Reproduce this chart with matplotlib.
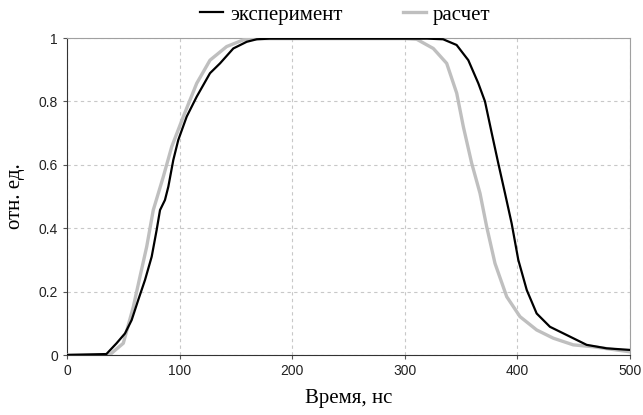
import numpy as np
import matplotlib.pyplot as plt

# experiment (black)
t_exp = [0, 35, 44, 51.5, 57.4, 63.3, 69.3, 75.2, 79.6, 82.6, 87, 90, 94.4, 98.8, 106.3,
         115.2, 127, 135.9, 147.7, 159.6, 168.5, 180, 250, 320, 334, 346, 356.4, 365.3,
         371.2, 377.2, 383, 389, 394.9, 400.8, 408.3, 417.1, 428.9, 443.8, 461.5, 479.3, 500]
v_exp = [0, 0.003, 0.037, 0.068, 0.11, 0.174, 0.237, 0.31, 0.394, 0.457, 0.489, 0.531,
         0.615, 0.678, 0.752, 0.815, 0.889, 0.92, 0.967, 0.988, 0.996, 0.998, 0.998, 0.998,
         0.996, 0.978, 0.93, 0.857, 0.80, 0.70, 0.605, 0.51, 0.415, 0.30, 0.205, 0.131,
         0.089, 0.063, 0.032, 0.021, 0.016]

# calculation (grey)
t_calc = [0, 38, 41, 50, 58.9, 64.8, 70.8, 76.6, 85.5, 93, 103.3, 115.2, 127, 141.8,
          156.6, 170, 250, 300, 310.6, 325.3, 337.2, 346.1, 352, 359.4, 366.8, 372.7,
          380.1, 390.5, 402.3, 417.1, 431.9, 449.6, 467.4, 500]
v_calc = [0, 0.0, 0.01, 0.037, 0.152, 0.247, 0.342, 0.457, 0.562, 0.657, 0.752, 0.857,
          0.93, 0.973, 0.994, 0.998, 0.998, 0.998, 0.996, 0.967, 0.92, 0.826, 0.72, 0.605,
          0.51, 0.405, 0.289, 0.184, 0.121, 0.079, 0.053, 0.032, 0.026, 0.01]

x_ticks = [0, 100, 200, 300, 400, 500]
y_ticks = [0, 0.2, 0.4, 0.6, 0.8, 1]
y_ticklabels = ['0', '0.2', '0.4', '0.6', '0.8', '1']

fig = plt.figure(figsize=(6.43, 4.15), dpi=100)
ax = fig.add_axes([67/643, 1 - 355/415, (630 - 67)/643, (355 - 38)/415])

ax.plot(t_calc, v_calc, color='#bfbfbf', lw=2.4, label='расчет', zorder=3)
ax.plot(t_exp, v_exp, color='black', lw=1.6, label='эксперимент', zorder=4)

ax.set_xlim(0, 500)
ax.set_ylim(0, 1)
ax.set_xticks(x_ticks)
ax.set_yticks(y_ticks)
ax.set_yticklabels(y_ticklabels)
for lab in ax.get_xticklabels() + ax.get_yticklabels():
    lab.set_family('Liberation Sans')
    lab.set_fontsize(10)
ax.tick_params(direction='out', length=3, width=0.8, colors='#555555', labelcolor='#222222')

ax.grid(True, ls=(0, (3, 3)), color='#c8c8c8', lw=0.8)
ax.set_axisbelow(True)
ax.spines['left'].set_color('#333333')
ax.spines['bottom'].set_color('#333333')
ax.spines['top'].set_color('#a0a0a0')
ax.spines['right'].set_color('#a0a0a0')

ax.set_xlabel('Время, нс', family='Liberation Serif', fontsize=15, labelpad=8)
ax.set_ylabel('отн. ед.', family='Liberation Serif', fontsize=15, labelpad=10)

h, l = ax.get_legend_handles_labels()
fig.legend(h[::-1], l[::-1], loc='center', bbox_to_anchor=(345/643, 1 - 15/415), ncol=2,
           frameon=False, prop={'family': 'Liberation Serif', 'size': 15},
           handlelength=1.1, handletextpad=0.35, columnspacing=2.9)

fig.savefig('out.png', dpi=100)
